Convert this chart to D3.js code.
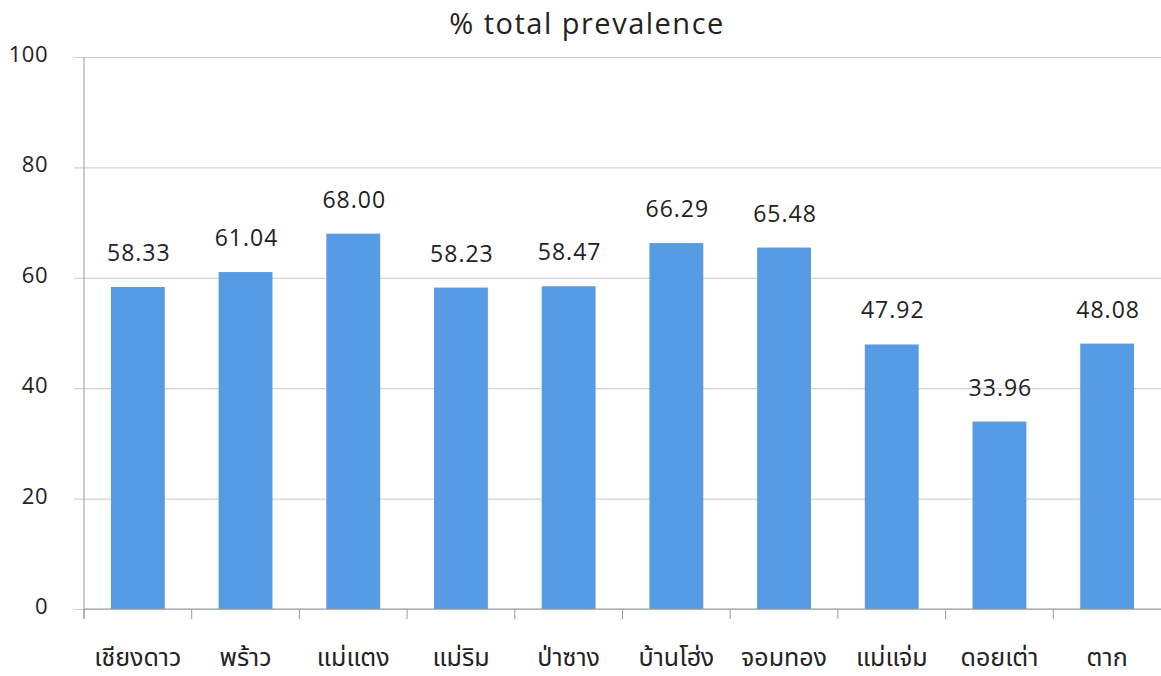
<!DOCTYPE html>
<html>
<head>
<meta charset="utf-8">
<script src="https://cdn.jsdelivr.net/npm/d3@7/dist/d3.min.js"></script>
<style>
  html, body { margin: 0; padding: 0; background: #fff; }
  svg { display: block; }
  text { fill: #222; }
</style>
</head>
<body>
<svg id="chart" width="1161" height="676"></svg>
<script>
// Districts and their total prevalence (%)
const districts = ["เชียงดาว", "พร้าว", "แม่แตง", "แม่ริม", "ป่าซาง", "บ้านโฮ่ง", "จอมทอง", "แม่แจ่ม", "ดอยเต่า", "ตาก"];
const prevalence = [58.33, 61.04, 68.00, 58.23, 58.47, 66.29, 65.48, 47.92, 33.96, 48.08];
const yTicks = [0, 20, 40, 60, 80, 100];
const title = "% total prevalence";

const svg = d3.select("#chart");
const plotLeft = 84, plotRight = 1161, plotTop = 57, plotBottom = 609;

const latin = "'Open Sans', 'Noto Sans', sans-serif";
const thai = "'Noto Sans Thai', 'Noto Sans', 'DejaVu Sans', sans-serif";

const x = d3.scaleBand().domain(districts).range([plotLeft, plotRight]).paddingInner(0.5).paddingOuter(0.25);
const y = d3.scaleLinear().domain([0, 100]).range([plotBottom, plotTop]);

// horizontal gridlines with a short outer tick
const yAxis = d3.axisLeft(y).tickValues(yTicks).tickSize(-(plotRight - plotLeft)).tickPadding(0).tickFormat("");
const gy = svg.append("g").attr("transform", `translate(${plotLeft},0)`).call(yAxis);
gy.select(".domain").remove();
gy.selectAll(".tick line").attr("stroke", "#c8c8c8").attr("stroke-width", 1).attr("x1", -10);

// y tick labels
svg.append("g").selectAll("text").data(yTicks).join("text")
  .attr("x", 48).attr("y", d => y(d) + 5)
  .attr("text-anchor", "end")
  .style("font-family", latin).style("font-size", "22px").style("letter-spacing", "0.5px")
  .text(d => d);

// y axis line
svg.append("line").attr("x1", plotLeft).attr("x2", plotLeft).attr("y1", plotTop).attr("y2", plotBottom + 10)
  .attr("stroke", "#999").attr("stroke-width", 1);

// bars
svg.append("g").selectAll("rect").data(prevalence).join("rect")
  .attr("x", (d, i) => x(districts[i]))
  .attr("width", x.bandwidth())
  .attr("y", d => y(d))
  .attr("height", d => y(0) - y(d))
  .attr("fill", "#579be5");

// x axis with ticks between categories
svg.append("line").attr("x1", plotLeft).attr("x2", plotRight).attr("y1", plotBottom).attr("y2", plotBottom)
  .attr("stroke", "#999").attr("stroke-width", 1);
svg.append("g").selectAll("line").data(districts).join("line")
  .attr("x1", (d, i) => plotLeft + i * x.step()).attr("x2", (d, i) => plotLeft + i * x.step())
  .attr("y1", plotBottom).attr("y2", plotBottom + 10)
  .attr("stroke", "#999").attr("stroke-width", 1);

// category labels
svg.append("g").selectAll("text").data(districts).join("text")
  .attr("x", d => x(d) + x.bandwidth() / 2).attr("y", 666)
  .attr("text-anchor", "middle")
  .style("font-family", thai).style("font-size", "25px")
  .text(d => d);

// value labels
svg.append("g").selectAll("text").data(prevalence).join("text")
  .attr("x", (d, i) => x(districts[i]) + x.bandwidth() / 2 + 1)
  .attr("y", d => y(d) - 26)
  .attr("text-anchor", "middle")
  .style("font-family", latin).style("font-size", "23px").style("letter-spacing", "1px")
  .text(d => d.toFixed(2));

// title
svg.append("text").attr("x", 587).attr("y", 34).attr("text-anchor", "middle")
  .style("font-family", latin).style("font-size", "29px").style("letter-spacing", "1.5px")
  .text(title);
</script>
</body>
</html>
